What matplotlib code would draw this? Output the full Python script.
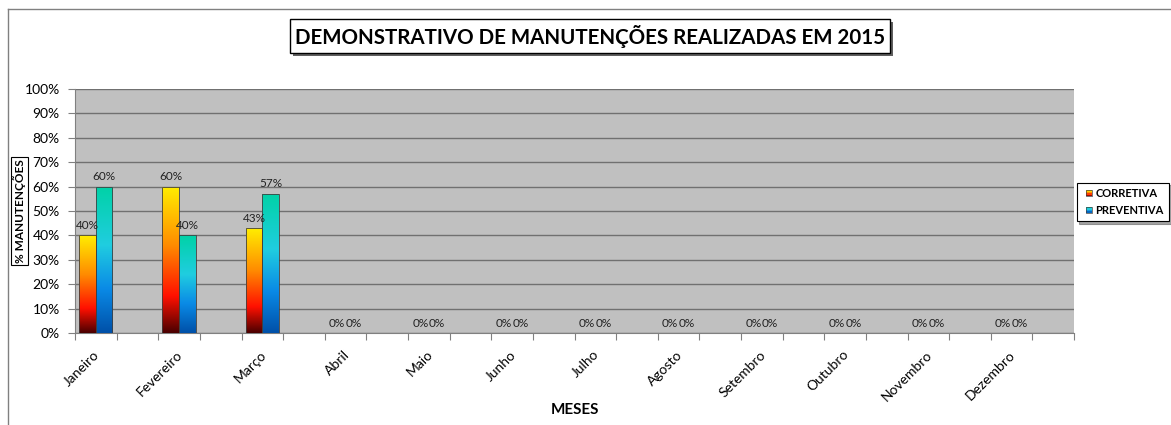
import numpy as np
import matplotlib
matplotlib.use("Agg")
import matplotlib.pyplot as plt
from matplotlib.colors import LinearSegmentedColormap
from matplotlib.patches import Rectangle
from matplotlib.lines import Line2D
from matplotlib.legend_handler import HandlerBase

plt.rcParams['font.family'] = ['Lato', 'DejaVu Sans']

# Data
meses = ["Janeiro", "Fevereiro", "Março", "Abril", "Maio", "Junho", "Julho",
         "Agosto", "Setembro", "Outubro", "Novembro", "Dezembro"]
corretiva = [0.40, 0.60, 0.4286, 0, 0, 0, 0, 0, 0, 0, 0, 0]
preventiva = [0.60, 0.40, 0.5714, 0, 0, 0, 0, 0, 0, 0, 0, 0]
series_names = ["CORRETIVA", "PREVENTIVA"]

# Gradient colours (bottom -> top)
cmap_corr = LinearSegmentedColormap.from_list(
    "corr", [(0, "#4a0000"), (0.25, "#ff1000"), (0.6, "#ff8c00"), (1, "#ffee00")])
cmap_prev = LinearSegmentedColormap.from_list(
    "prev", [(0, "#0050a8"), (0.3, "#0a8ae6"), (0.6, "#20cde0"), (1, "#00d2a6")])

W, H = 1171, 425
fig = plt.figure(figsize=(W / 100, H / 100), dpi=100)
ax = fig.add_axes([75 / W, 1 - 333 / H, (1074 - 75) / W, (333 - 89) / H])
ax.set_facecolor("#c0c0c0")

x = np.arange(len(meses))
bw = 0.2
grad = np.linspace(0, 1, 256).reshape(-1, 1)


def gradient_bars(left, vals, cmap):
    bars = ax.bar(left, vals, width=bw, align="edge", facecolor="none",
                  edgecolor="#404040", linewidth=0.6, zorder=4)
    for b in bars:
        h = b.get_height()
        if h <= 0:
            continue
        im = ax.imshow(grad, cmap=cmap, aspect="auto", origin="lower",
                       extent=[b.get_x(), b.get_x() + b.get_width(), 0, h], zorder=3)
        im.set_clip_path(b)
    return bars


bars_c = gradient_bars(x + 0.05, corretiva, cmap_corr)
bars_p = gradient_bars(x + 0.25, preventiva, cmap_prev)

# Data labels
for bars, vals in [(bars_c, corretiva), (bars_p, preventiva)]:
    for b, v in zip(bars, vals):
        ax.annotate(f"{v:.0%}", (b.get_x() + b.get_width() / 2, v),
                    xytext=(0, 3), textcoords="offset points", ha="center",
                    va="bottom", fontsize=8.5, color="#222222", zorder=5)

ax.set_xlim(0, 12)
ax.set_ylim(0, 1)
ax.set_yticks(np.arange(0, 1.01, 0.1))
ax.set_yticklabels([f"{int(round(t * 100))}%" for t in np.arange(0, 1.01, 0.1)], fontsize=10)
ax.yaxis.grid(True, color="#707070", linewidth=1)
ax.set_axisbelow(True)

# ticks every half month, labels under each bar pair
ax.set_xticks(np.arange(0, 12.01, 0.5))
ax.set_xticklabels([])
ax.set_xticks(x + 0.22, minor=True)
ax.set_xticklabels(meses, minor=True, rotation=45, ha="right",
                   rotation_mode="anchor", fontsize=10)
ax.tick_params(axis="x", which="minor", length=0, pad=11)
ax.tick_params(axis="x", which="major", length=5, color="#808080")
ax.tick_params(axis="y", length=5, color="#808080", pad=6)

for s in ["top", "right"]:
    ax.spines[s].set_visible(False)
ax.spines["left"].set_color("#808080")
ax.spines["bottom"].set_color("#808080")

fig.text(19.5 / W, 1 - 211 / H, "% MANUTENÇÕES", fontsize=8.5, fontweight="bold",
         rotation=90, ha="center", va="center",
         bbox=dict(boxstyle="square,pad=0.15", facecolor="white",
                   edgecolor="black", linewidth=0.8))
fig.text(575 / W, 1 - 410 / H, "MESES", fontsize=11, fontweight="bold",
         ha="center", va="center")

# Title box with shadow
fig.patches.append(Rectangle((293 / W, 1 - 56 / H), 600 / W, 34 / H,
                             transform=fig.transFigure, facecolor="#606060",
                             edgecolor="none", zorder=1))
fig.patches.append(Rectangle((290 / W, 1 - 53 / H), 600 / W, 34 / H,
                             transform=fig.transFigure, facecolor="white",
                             edgecolor="black", linewidth=1, zorder=2))
fig.text(590 / W, 1 - 36.5 / H, "DEMONSTRATIVO DE MANUTENÇÕES REALIZADAS EM 2015",
         fontsize=14.8, fontweight="bold", ha="center", va="center", zorder=3)

# Outer chart border
fig.add_artist(Line2D([8 / W, 8 / W], [0, 1 - 9 / H], transform=fig.transFigure,
                      color="#808080", linewidth=1))
fig.add_artist(Line2D([8 / W, 1], [1 - 9 / H, 1 - 9 / H], transform=fig.transFigure,
                      color="#808080", linewidth=1))


class GradientHandler(HandlerBase):
    def __init__(self, cmap):
        super().__init__()
        self.cmap = cmap

    def create_artists(self, legend, orig_handle, xdescent, ydescent, width,
                       height, fontsize, trans):
        size = height * 0.8
        x0 = width - size
        y0 = (height - size) / 2
        n = 4
        arts = []
        for i in range(n):
            r = Rectangle((x0, y0 + i * size / n), size, size / n,
                          facecolor=self.cmap((i + 0.5) / n), edgecolor="none",
                          transform=trans)
            arts.append(r)
        arts.append(Rectangle((x0, y0), size, size, facecolor="none",
                              edgecolor="#404040", linewidth=0.5, transform=trans))
        return arts


h1 = Rectangle((0, 0), 1, 1)
h2 = Rectangle((0, 0), 1, 1)
leg = fig.legend([h1, h2], series_names, loc="center",
                 bbox_to_anchor=(1123 / W, 1 - 202 / H),
                 handler_map={h1: GradientHandler(cmap_corr), h2: GradientHandler(cmap_prev)},
                 prop=dict(size=8, weight="bold"), frameon=True, fancybox=False,
                 shadow=True, edgecolor="black", handlelength=0.9, handletextpad=0.3,
                 borderpad=0.5, labelspacing=0.5)
leg.get_frame().set_linewidth(0.8)

fig.savefig("out.png", dpi=100)
